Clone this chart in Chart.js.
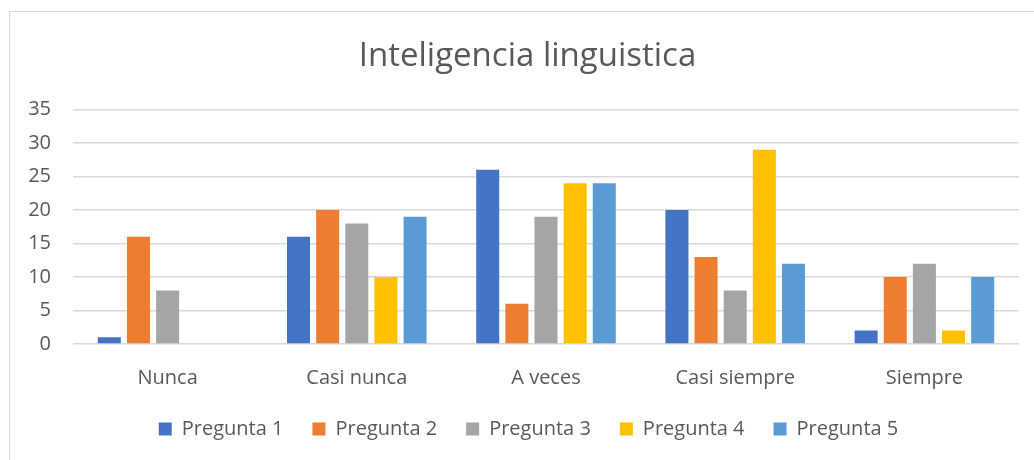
<!DOCTYPE html>
<html><head><meta charset="utf-8">
<script src="https://cdn.jsdelivr.net/npm/chart.js@4/dist/chart.umd.min.js"></script>
<style>
html,body{margin:0;padding:0;background:#fff;}
#wrap{position:relative;width:1034px;height:460px;}
#frame{position:absolute;left:9px;top:11px;width:1040px;height:460px;border:1px solid #d9d9d9;box-sizing:border-box;}
canvas{position:absolute;left:0;top:0;}
</style></head>
<body><div id="wrap"><div id="frame"></div><canvas id="c" width="1034" height="460"></canvas></div>
<script>
const title = "Inteligencia linguistica";
const categories = ["Nunca", "Casi nunca", "A veces", "Casi siempre", "Siempre"];
const seriesNames = ["Pregunta 1", "Pregunta 2", "Pregunta 3", "Pregunta 4", "Pregunta 5"];
const pregunta1 = [1, 16, 26, 20, 2];
const pregunta2 = [16, 20, 6, 13, 10];
const pregunta3 = [8, 18, 19, 8, 12];
const pregunta4 = [0, 10, 24, 29, 2];
const pregunta5 = [0, 19, 24, 12, 10];
const colors = ["#4472C4", "#ED7D31", "#A5A5A5", "#FFC000", "#5B9BD5"];
const yMin = 0, yMax = 35, yStep = 5;

const FONT = "'Open Sans', sans-serif";
const data = [pregunta1, pregunta2, pregunta3, pregunta4, pregunta5];
const blockShift = {
  id: 'blockShift',
  afterLayout(chart) {
    const l = chart.legend;
    if (l) { l.top -= 22; l.bottom -= 22; l.left += 9; l.right += 9; }
    const t = chart.titleBlock;
    if (t) { t.left += 8; t.right += 8; }
  }
};
new Chart(document.getElementById('c'), {
  type: 'bar',
  data: {
    labels: categories,
    datasets: seriesNames.map((n, i) => ({
      label: n, data: data[i], backgroundColor: colors[i], borderWidth: 0,
      categoryPercentage: 0.77, barPercentage: 0.79
    }))
  },
  plugins: [blockShift],
  options: {
    responsive: false, animation: false, devicePixelRatio: 1,
    layout: { padding: { left: 20, right: 15, top: 20, bottom: -11 } },
    plugins: {
      title: { display: true, text: title, color: '#595959',
        font: { family: FONT, size: 33, weight: 'normal' }, padding: { top: 17, bottom: 33 } },
      legend: { position: 'bottom',
        labels: { boxWidth: 13, boxHeight: 13, padding: 29, color: '#595959',
          font: { family: FONT, size: 20 } } },
      tooltip: { enabled: false }
    },
    scales: {
      x: { grid: { display: false, drawTicks: false }, border: { display: false },
        ticks: { color: '#595959', padding: 22, font: { family: FONT, size: 20 } } },
      y: { min: yMin, max: yMax,
        grid: { color: '#d9d9d9', lineWidth: 1.5, drawTicks: false }, border: { display: false },
        ticks: { stepSize: yStep, color: '#595959', padding: 22, font: { family: FONT, size: 20 } },
        afterFit: s => { s.width = 53; } }
    }
  }
});
</script></body></html>
